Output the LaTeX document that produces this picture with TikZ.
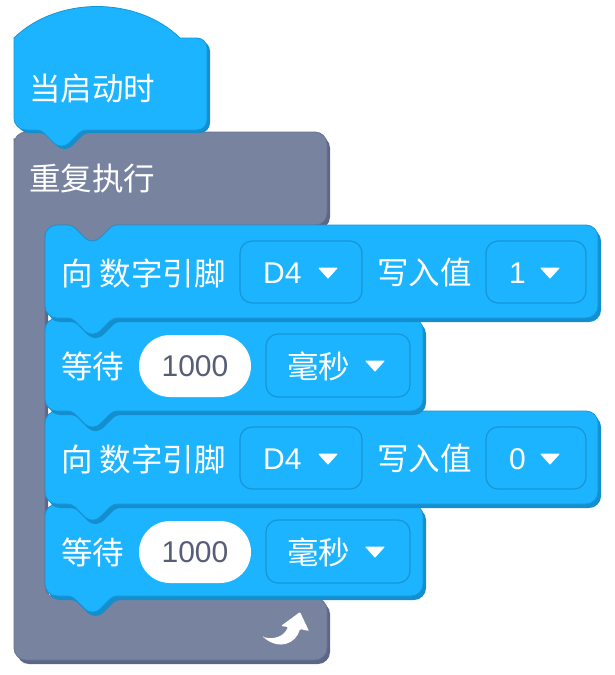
\documentclass[tikz,border=0pt]{standalone}
\usepackage{fontspec}
\setmainfont{Liberation Sans}
\newfontfamily\cjk{Noto Sans CJK SC}
\definecolor{bblue}{RGB}{28,180,255}
\definecolor{bshadow}{RGB}{20,142,205}
\definecolor{bline}{RGB}{22,150,215}
\definecolor{cgray}{RGB}{120,131,160}
\definecolor{cshadow}{RGB}{92,102,134}
\definecolor{cline}{RGB}{105,116,146}
\definecolor{numgray}{RGB}{87,94,117}
\newcommand\blockshape[5]{%
  \path[#1] [rounded corners=12] (#2,{#3+20}) -- (#2,#3) [rounded corners=4] -- ({#2+27},#3) -- ({#2+43},{#3+16}) -- ({#2+52},{#3+16}) -- ({#2+68},#3) [rounded corners=12] -- (#4,#3) -- (#4,#5) [rounded corners=4] -- ({#2+68},#5) -- ({#2+52},{#5+16}) -- ({#2+43},{#5+16}) -- ({#2+27},#5) [rounded corners=12] -- (#2,#5) -- cycle;}
\newcommand\hatshape[1]{%
  \path[#1] (14,38) .. controls (57,-4) and (137,-4) .. (180,38) [rounded corners=10] -- (207,38) -- (207,130) [rounded corners=4] -- (82,130) -- (66,146) -- (57,146) -- (41,130) [rounded corners=12] -- (14,130) -- (14,60) [sharp corners] -- cycle;}
\newcommand\grayshape[1]{%
  \path[#1] [rounded corners=12] (14,150) -- (14,132) -- (327,132) -- (327,225) [rounded corners=4] -- (113,225) -- (97,241) -- (88,241) -- (72,225) [rounded corners=12] -- (45,225) -- (45,598) -- (327,598) -- (327,660) -- (14,660) -- cycle;}
\newcommand\stackblk[4]{%
  \blockshape{fill=bshadow,shift={(3,4)}}{#1}{#2}{#3}{#4}%
  \blockshape{fill=bblue,draw=bline,line width=0.8pt}{#1}{#2}{#3}{#4}}
\tikzset{
  lbl/.style={anchor=west,inner sep=0pt,text=white,font=\fontsize{30}{31}\selectfont},
  clbl/.style={anchor=west,inner sep=0pt,text=white,font=\fontsize{31.5}{32}\selectfont\cjk},
  num/.style={inner sep=0pt,text=numgray,font=\fontsize{30}{31}\selectfont},
  ddbox/.style={fill=bblue,draw=bline,line width=1.2pt,rounded corners=12},
  oval/.style={fill=white,rounded corners=31},
  tri/.style={fill=white,draw=white,line width=1pt,line join=round}
}
\begin{document}
\begin{tikzpicture}[x=1pt,y=-1pt]
\useasboundingbox (0,0) rectangle (615,675);
% repeat C block
\grayshape{fill=cshadow,shift={(3,4)}}
\grayshape{fill=cgray,draw=cline,line width=0.8pt}
% hat block
\hatshape{fill=bshadow,shift={(3,3)}}
\hatshape{fill=bblue,draw=bline,line width=0.8pt}
% stack blocks, lowest first
\stackblk{45}{504}{423}{596}
\stackblk{45}{411}{598}{504}
\stackblk{45}{318}{423}{411}
\stackblk{45}{225}{598}{318}
% texts of hat and repeat
\node[clbl] (hat) at (29,88.5) {当启动时};
\node[clbl] (rep) at (29,179) {重复执行};
% block 1 and 3: digital write
\foreach \T/\v/\nm in {225/1/a,411/0/c}{
  \node[clbl] (pin\nm) at (61,\T+48) {向 数字引脚};
  \draw[ddbox] (240,\T+16) rectangle (362,\T+78);
  \node[lbl] (d\nm) at (263,\T+48) {D4};
  \draw[tri] (319,\T+43) -- (337,\T+43) -- (328,\T+53) -- cycle;
  \node[clbl] (w\nm) at (377,\T+48) {写入值};
  \draw[ddbox] (486,\T+16) rectangle (586,\T+78);
  \node[lbl] (v\nm) at (509,\T+48) {\v};
  \draw[tri] (541,\T+43) -- (559,\T+43) -- (550,\T+53) -- cycle;
}
% block 2 and 4: wait
\foreach \T/\nm in {318/b,504/d}{
  \node[clbl] (wait\nm) at (61,\T+48) {等待};
  \path[oval] (139,\T+17) rectangle (251,\T+79);
  \node[num] (n\nm) at (195,\T+48) {1000};
  \draw[ddbox] (266,\T+16) rectangle (410,\T+79);
  \node[clbl] (ms\nm) at (287,\T+48) {毫秒};
  \draw[tri] (366,\T+43) -- (384,\T+43) -- (375,\T+53) -- cycle;
}
% loop arrow icon
\fill[white,rounded corners=1] (263,637) .. controls (275,640) and (284,636) .. (288,627) -- (281,626) -- (300,612) -- (309,631) -- (300,629) .. controls (296,643) and (280,651) .. (263,637) -- cycle;
\end{tikzpicture}
\end{document}
